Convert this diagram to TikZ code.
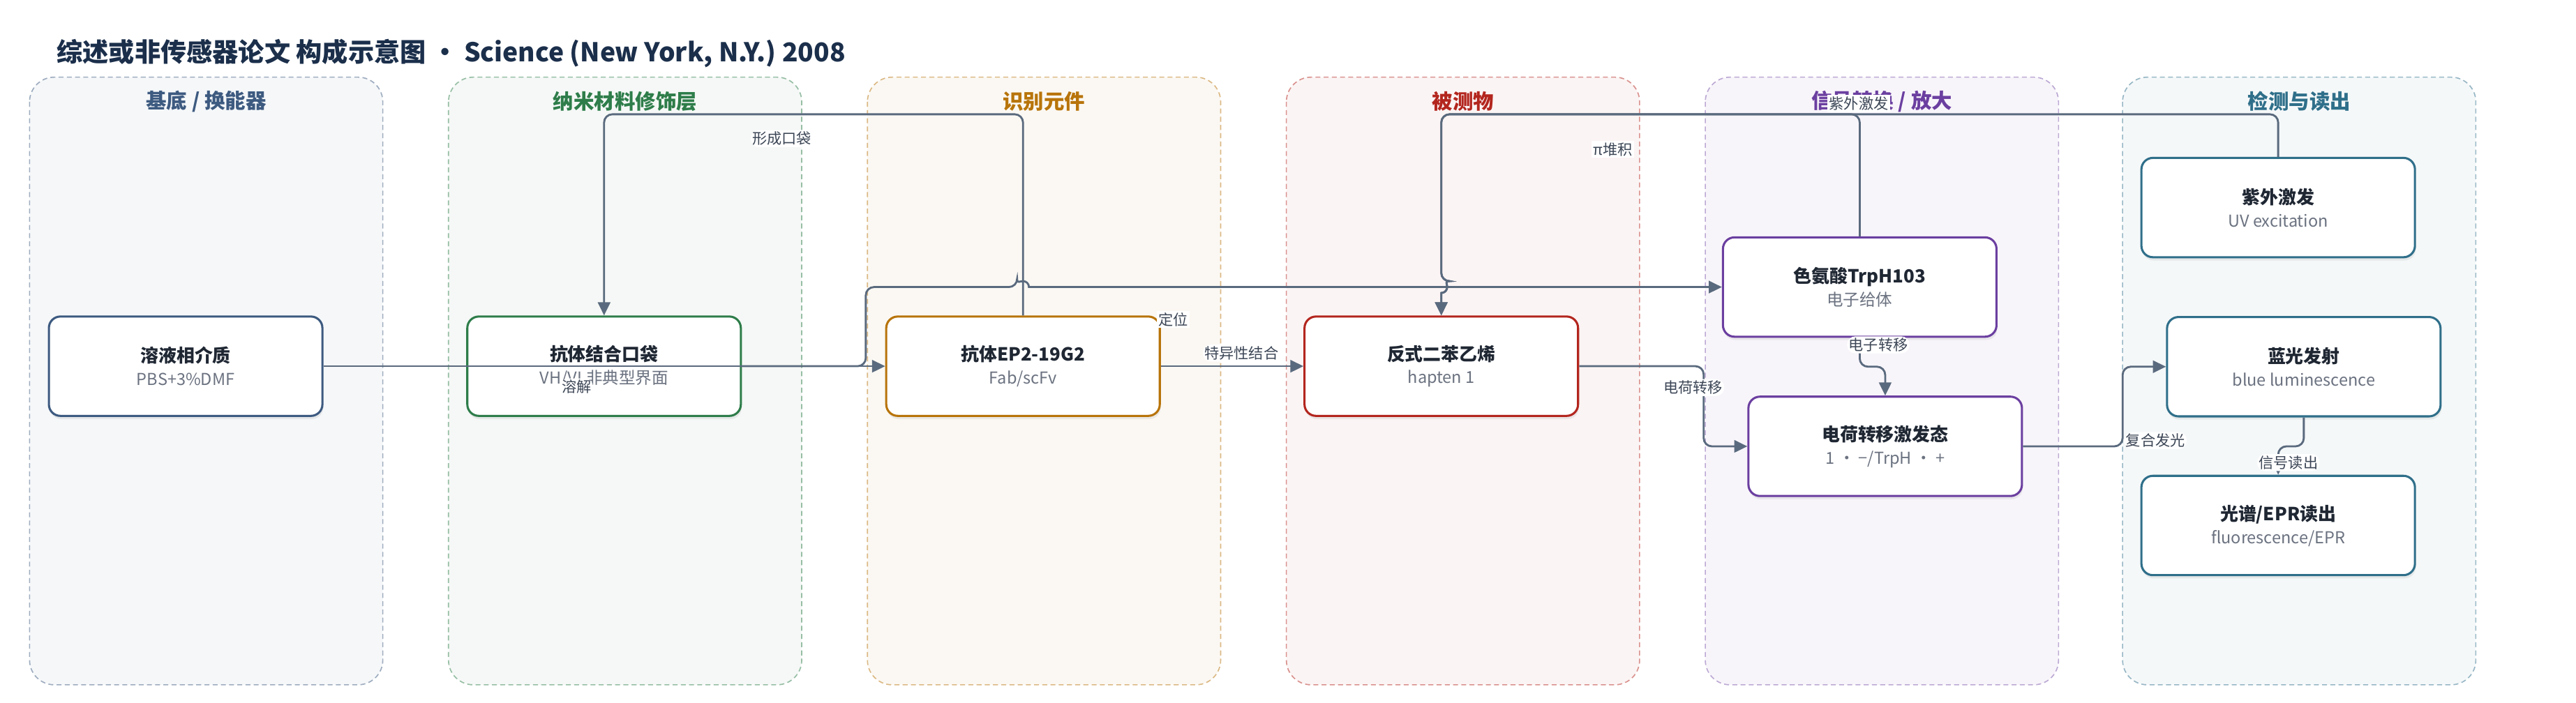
\documentclass[tikz,border=0pt]{standalone}
\usepackage{fontspec}
\setmainfont{Noto Sans CJK SC}
\usetikzlibrary{arrows.meta,shadows}
\definecolor{titc}{HTML}{1B2F4B}
\definecolor{linec}{HTML}{5A6A7E}
\definecolor{lblc}{HTML}{3C4656}
\definecolor{subc}{HTML}{6B7280}
\definecolor{txtc}{HTML}{1F2733}
\definecolor{navy}{HTML}{3D5A80}
\definecolor{grn}{HTML}{2E7D4A}
\definecolor{orng}{HTML}{B8740A}
\definecolor{rd}{HTML}{B3261E}
\definecolor{purp}{HTML}{6B3FA0}
\definecolor{teal}{HTML}{2F6F8A}
\tikzset{every picture/.style={line width=0.5pt}}
\tikzstyle{lane}=[rounded corners=15pt,dash pattern=on 3pt off 2pt,line width=0.7pt]
\tikzstyle{lanetitle}=[font=\bfseries\fontsize{12.5}{14}\selectfont]
\tikzstyle{box}=[draw,fill=white,rounded corners=7pt,line width=1.3pt,minimum width=166.5pt,minimum height=60.5pt,align=center,inner sep=0pt,text=txtc,drop shadow={shadow xshift=0.5pt,shadow yshift=-2pt,opacity=0.13}]
\tikzstyle{conn}=[draw=linec,line width=1.2pt,rounded corners=5pt,-{Triangle[length=8pt,width=7.5pt]}]
\tikzstyle{lbl}=[fill=white,inner sep=1pt,text=lblc,font=\fontsize{9}{10}\selectfont]
\newcommand{\boxtext}[2]{{\bfseries\fontsize{11}{13}\selectfont #1}\\[2pt]{\fontsize{10}{12}\selectfont\color{subc}#2}}

\begin{document}
\begin{tikzpicture}[x=1pt,y=-1pt]
\useasboundingbox (0,0) rectangle (1568,428);
\node[anchor=west,text=titc,font=\bfseries\fontsize{15.8}{18}\selectfont] (title) at (31,32.5) {综述或非传感器论文 构成示意图 · Science (New York, N.Y.) 2008};
% lanes
\draw[lane,draw=navy!50,fill=navy!5] (18,47) rectangle (233,417);
\draw[lane,draw=grn!50,fill=grn!5] (273,47) rectangle (488,417);
\draw[lane,draw=orng!50,fill=orng!5] (528,47) rectangle (743,417);
\draw[lane,draw=rd!50,fill=rd!5] (783,47) rectangle (998,417);
\draw[lane,draw=purp!45,fill=purp!5] (1038,47) rectangle (1253,417);
\draw[lane,draw=teal!50,fill=teal!5] (1292,47) rectangle (1507,417);
\node[lanetitle,text=navy] (l1) at (125.5,61.7) {基底 / 换能器};
\node[lanetitle,text=grn] (l2) at (380.5,61.7) {纳米材料修饰层};
\node[lanetitle,text=orng] (l3) at (635.5,61.7) {识别元件};
\node[lanetitle,text=rd] (l4) at (890.5,61.7) {被测物};
\node[lanetitle,text=purp] (l5) at (1145.5,61.7) {信号转换 / 放大};
\node[lanetitle,text=teal] (l6) at (1399.5,61.7) {检测与读出};
% nodes
\node[box,draw=navy] (solv) at (113,223) {\boxtext{溶液相介质}{PBS+3\%DMF}};
\node[box,draw=grn] (pocket) at (367.7,223) {\boxtext{抗体结合口袋}{VH/VL非典型界面}};
\node[box,draw=orng] (ab) at (622.7,223) {\boxtext{抗体EP2-19G2}{Fab/scFv}};
\node[box,draw=rd] (stil) at (877.3,223) {\boxtext{反式二苯乙烯}{hapten 1}};
\node[box,draw=purp] (trp) at (1132,174.8) {\boxtext{色氨酸TrpH103}{电子给体}};
\node[box,draw=purp] (ct) at (1147.5,271.8) {\boxtext{电荷转移激发态}{1 • −/TrpH • +}};
\node[box,draw=teal] (uv) at (1386.7,126.4) {\boxtext{紫外激发}{UV excitation}};
\node[box,draw=teal] (blue) at (1402.3,223.3) {\boxtext{蓝光发射}{blue luminescence}};
\node[box,draw=teal] (epr) at (1386.7,320) {\boxtext{光谱/EPR读出}{fluorescence/EPR}};
\coordinate (rail) at (0,69.6);
% connectors
\draw[conn] (solv.east) -- (ab.west) node[lbl] at (351,235.6) {溶解};
\draw[conn] (pocket.east) -- (527,223) -- (527,174.8) -- (619.1,174.8) [sharp corners] arc[start angle=180,end angle=0,radius=3.6pt] -- (trp.west) node[lbl] at (714,194.6) {定位};
\draw[conn] (ab.north) -- (ab.north |- rail) -- (pocket.north |- rail) -- (pocket.north) node[lbl] at (476,84.5) {形成口袋};
\draw[conn] (ab.east) -- (stil.west) node[lbl] at (755.7,215) {特异性结合};
\draw[conn] (uv.north) -- (uv.north |- rail) -- (stil.north |- rail) -- (877.3,171.2) [sharp corners] arc[start angle=90,end angle=-90,radius=3.6pt] -- (stil.north) node[lbl] at (1131.4,63) {紫外激发};
\draw[conn] (trp.north) -- (trp.north |- rail) -- (stil.north |- rail) -- (877.3,171.2) [sharp corners] arc[start angle=90,end angle=-90,radius=3.6pt] -- (stil.north) node[lbl] at (981.6,91) {π堆积};
\draw[conn] (stil.east) -- (1037,223) -- (1037,271.8) -- (ct.west) node[lbl] at (1030.5,236) {电荷转移};
\draw[conn] (trp.south) -- (1132,223.3) -- (1147.5,223.3) -- (ct.north) node[lbl] at (1143.3,210) {电子转移};
\draw[conn] (ct.east) -- (1292,271.8) -- (1292,223.3) -- (blue.west) node[lbl] at (1312,268.3) {复合发光};
\draw[conn] (blue.south) -- (1402.3,271.8) -- (1386.7,271.8) -- (epr.north) node[lbl] at (1393,281.7) {信号读出};
\end{tikzpicture}
\end{document}
